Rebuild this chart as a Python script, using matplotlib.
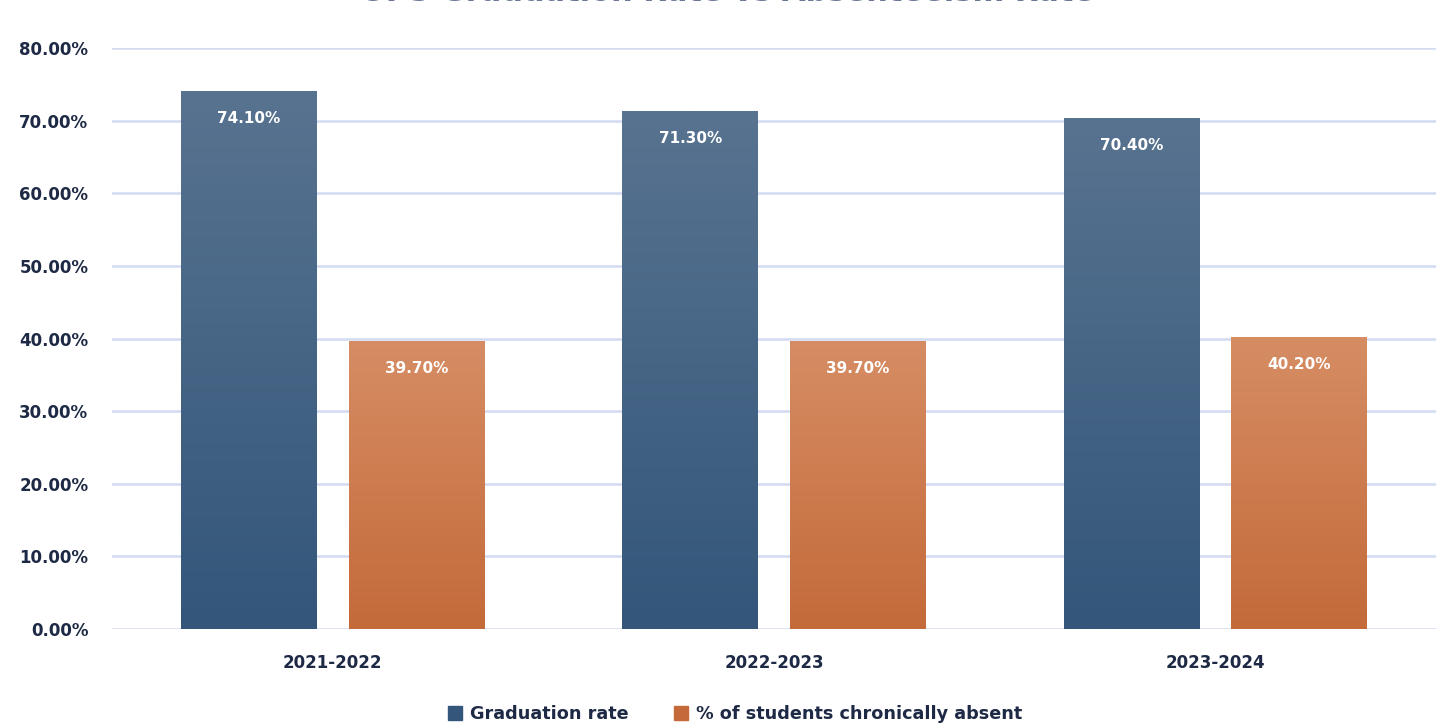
import matplotlib
matplotlib.use("Agg")
import matplotlib.pyplot as plt
import numpy as np
from matplotlib.patches import Rectangle
from matplotlib.colors import to_rgb

plt.rcParams['font.family'] = ['DejaVu Sans']

categories = ["2021-2022", "2022-2023", "2023-2024"]
graduation = [74.10, 71.30, 70.40]
absent = [39.70, 39.70, 40.20]
series_names = ["Graduation rate", "% of students chronically absent"]
yticks = [0, 10, 20, 30, 40, 50, 60, 70, 80]
title = "OPS Graduation Rate vs Absenteeism Rate"

text_col = "#1e2a45"
grid_col = "#d3dbf1"
blue_top, blue_bot = "#587390", "#33567a"
orng_top, orng_bot = "#d68d64", "#c46a3a"

fig = plt.figure(figsize=(14.46, 7.26), dpi=100)
ax = fig.add_axes([112/1446, 97/726, (1436-112)/1446, (629-48)/726])


def grad_bar(ax, x, h, w, ctop, cbot):
    bars = ax.bar([x], [h], width=w, color='none', edgecolor='none', zorder=3)
    rect = bars[0]
    n = 256
    t = np.linspace(0, 1, n)[:, None]
    c1 = np.array(to_rgb(ctop)); c2 = np.array(to_rgb(cbot))
    img = (c1[None, :] * (1 - t) + c2[None, :] * t)[:, None, :]
    im = ax.imshow(img, extent=[x - w/2, x + w/2, 0, h], origin='upper',
                   aspect='auto', zorder=3, interpolation='bilinear')
    im.set_clip_path(rect)
    return rect

x = np.arange(len(categories))
w = 0.308
off = 0.19
for i in range(len(categories)):
    grad_bar(ax, x[i] - off, graduation[i], w, blue_top, blue_bot)
    grad_bar(ax, x[i] + off, absent[i], w, orng_top, orng_bot)
    ax.text(x[i] - off, graduation[i] - 3.8, f"{graduation[i]:.2f}%", ha='center', va='center',
            color='white', fontsize=11, fontweight='bold', zorder=5)
    ax.text(x[i] + off, absent[i] - 3.8, f"{absent[i]:.2f}%", ha='center', va='center',
            color='white', fontsize=11, fontweight='bold', zorder=5)

ax.set_xlim(-0.5, 2.5)
ax.set_ylim(0, 80)
ax.set_yticks(yticks)
ax.set_yticklabels([f"{v:.2f}%" for v in yticks])
ax.set_xticks(x)
ax.set_xticklabels(categories)
for sp in ax.spines.values():
    sp.set_visible(False)
ax.tick_params(axis='both', length=0, colors=text_col, labelsize=12)
ax.tick_params(axis='y', pad=17)
ax.tick_params(axis='x', pad=18)
for lab in ax.get_xticklabels() + ax.get_yticklabels():
    lab.set_fontweight('bold')
    lab.set_color(text_col)
ax.yaxis.grid(True, color=grid_col, linewidth=1.8)
ax.set_axisbelow(True)

handles = [Rectangle((0, 0), 1, 1, color=blue_bot), Rectangle((0, 0), 1, 1, color=orng_bot)]
leg = fig.legend(handles, series_names, loc='center', bbox_to_anchor=(735/1446, 1 - 714/726),
                 ncol=2, frameon=False, handlelength=0.8, handleheight=0.8, handletextpad=0.45,
                 columnspacing=2.6, prop={'weight': 'bold', 'size': 12.7})
for t in leg.get_texts():
    t.set_color(text_col)

fig.text(727/1446, 1 - 1/726, title, ha='center', va='baseline', fontsize=22,
         fontweight='bold', color="#6a7896")

fig.savefig("out.png", dpi=100, facecolor='white')
